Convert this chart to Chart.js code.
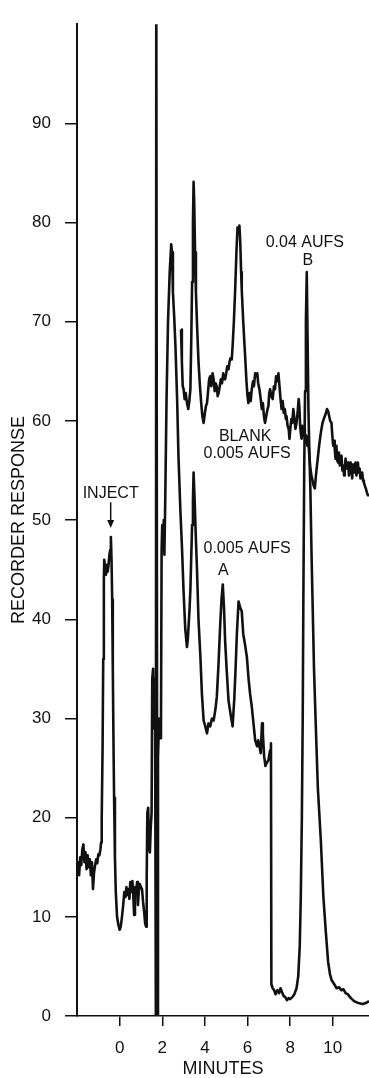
<!DOCTYPE html>
<html>
<head>
<meta charset="utf-8">
<title>Chromatogram</title>
<script src="https://cdn.jsdelivr.net/npm/chart.js@4.4.0/dist/chart.umd.min.js"></script>
<style>
  html, body { margin: 0; padding: 0; background: #fff; }
  #wrap { width: 369px; height: 1078px; }
</style>
</head>
<body>
<div id="wrap"><canvas id="chrom"></canvas></div>
<script>
// sample run, 0.005 AUFS (switched to 0.04 AUFS for peak B)
const SAMPLE_MIN = [
  -2.0, -1.95, -1.9, -1.85, -1.8, -1.75, -1.7, -1.65, -1.6, -1.55, -1.5, -1.45, -1.4, -1.35, -1.3, -1.25,
  -1.2, -1.15, -1.1, -1.05, -1.0, -0.95, -0.9, -0.87, -0.84, -0.8, -0.77, -0.74, -0.72, -0.68, -0.64, -0.6,
  -0.56, -0.52, -0.48, -0.44, -0.41, -0.38, -0.35, -0.32, -0.29, -0.26, -0.22, -0.18, -0.12, -0.06, 0.0, 0.05,
  0.1, 0.16, 0.22, 0.28, 0.32, 0.37, 0.42, 0.46, 0.5, 0.55, 0.6, 0.64, 0.68, 0.72, 0.78, 0.82,
  0.86, 0.9, 0.95, 1.0, 1.05, 1.1, 1.15, 1.2, 1.24, 1.27, 1.3, 1.34, 1.38, 1.42, 1.46, 1.5,
  1.53, 1.57, 1.62, 1.66, 1.70, 1.72, 1.75, 1.77, 1.80, 1.85, 1.9, 1.94, 1.97, 2.0, 2.04, 2.07,
  2.1, 2.14, 2.2, 2.27, 2.35, 2.42, 2.46, 2.5, 2.56, 2.62, 2.7, 2.76, 2.85, 2.93, 3.0, 3.08,
  3.16, 3.2, 3.28, 3.32, 3.4, 3.44, 3.47, 3.52, 3.58, 3.63, 3.7, 3.79, 3.86, 3.94, 4.02, 4.1,
  4.17, 4.25, 4.33, 4.41, 4.5, 4.56, 4.64, 4.72, 4.78, 4.84, 4.9, 4.95, 5.02, 5.11, 5.2, 5.3,
  5.38, 5.44, 5.5, 5.58, 5.65, 5.73, 5.8, 5.88, 5.97, 6.05, 6.12, 6.2, 6.28, 6.36, 6.45, 6.5,
  6.56, 6.62, 6.68, 6.72, 6.78, 6.84, 6.9, 6.98, 7.06, 7.1, 7.12, 7.18, 7.25, 7.32, 7.4, 7.48,
  7.55, 7.62, 7.7, 7.77, 7.85, 7.93, 8.0, 8.1, 8.2, 8.3, 8.38, 8.45, 8.5, 8.55, 8.59, 8.62,
  8.66, 8.7, 8.74, 8.78, 8.82, 8.86, 8.9, 8.95, 9.0, 9.06, 9.12, 9.2, 9.3, 9.44, 9.56, 9.68,
  9.78, 9.87, 9.95, 10.07, 10.18, 10.3, 10.4, 10.5, 10.6, 10.7, 10.85, 11.0, 11.2, 11.4, 11.55, 11.7
];
const SAMPLE_RESP = [
  14.5, 15.5, 14.2, 16, 15.2, 16.8, 17.3, 15.5, 16.5, 14.8, 16.2, 15, 15.8, 14.2, 15.5, 12.8,
  14.5, 15.2, 15.8, 15.4, 16.3, 16.2, 16.8, 17.5, 20, 27, 36, 44, 46, 45, 44.5, 45.5,
  44.8, 45.5, 46.5, 47, 48.3, 46, 42, 35, 28, 22, 16, 12.5, 10, 9.2, 8.7, 9.0,
  9.8, 11, 12.5, 12, 13, 12.2, 12.8, 11.8, 13.5, 12.5, 13.6, 12.2, 10.2, 13, 12.5, 13.5,
  11.2, 12.6, 13.3, 13, 12.8, 11.5, 10.5, 9.3, 9.0, 14, 20.5, 21, 17, 16.5, 19, 20.5,
  34, 35, 29, 34, 0, 105, 105, 0, 26, 30, 28, 29, 47, 49.5, 47, 50,
  46.5, 52, 62, 70, 75, 77.8, 77, 73, 70.5, 67.5, 62, 56.5, 51, 47, 42.8, 39,
  37.2, 38, 41, 43, 49.5, 52, 54.8, 52, 48, 45, 40, 36.2, 32.5, 29.8, 29.2, 28.5,
  29.5, 29.2, 30, 29.8, 31, 32.2, 35.5, 39.5, 42, 43.5, 41, 37.8, 35, 31.8, 30.5, 29.2,
  32, 35, 38.5, 41.8, 41.2, 40.8, 38.5, 37.5, 36.2, 34, 32.5, 31.2, 29.5, 27.8, 27.2, 27.8,
  27.2, 26.5, 29.5, 28.5, 26.2, 25.2, 25.5, 25.8, 26.8, 27.5, 3.2, 2.8, 2.6, 2.2, 2.6, 2.3,
  2.8, 2.4, 2.0, 1.9, 1.6, 1.8, 1.7, 1.9, 2.2, 2.8, 4.0, 7, 12, 20, 30, 42,
  55, 63, 70, 75, 68, 61, 57, 53, 47, 41, 35, 29.5, 23, 17.7, 12, 8.3,
  5.5, 4.2, 3.6, 3.2, 2.8, 2.9, 2.6, 2.7, 2.3, 2.2, 1.8, 1.5, 1.3, 1.2, 1.3, 1.5
];

// blank run, 0.005 AUFS
const BLANK_MIN = [
  2.88, 2.92, 2.96, 3.0, 3.05, 3.1, 3.16, 3.22, 3.27, 3.32, 3.36, 3.4, 3.44, 3.47, 3.5, 3.54,
  3.58, 3.63, 3.7, 3.76, 3.82, 3.88, 3.94, 4.0, 4.05, 4.1, 4.15, 4.2, 4.25, 4.3, 4.36, 4.41,
  4.46, 4.5, 4.56, 4.6, 4.64, 4.7, 4.75, 4.8, 4.86, 4.9, 4.95, 5.0, 5.05, 5.11, 5.16, 5.2,
  5.26, 5.3, 5.36, 5.42, 5.48, 5.53, 5.58, 5.62, 5.66, 5.7, 5.73, 5.8, 5.85, 5.89, 5.95, 6.0,
  6.04, 6.1, 6.15, 6.2, 6.26, 6.3, 6.36, 6.4, 6.46, 6.5, 6.56, 6.62, 6.67, 6.72, 6.77, 6.82,
  6.88, 6.94, 6.98, 7.02, 7.06, 7.12, 7.18, 7.24, 7.29, 7.34, 7.4, 7.45, 7.5, 7.55, 7.6, 7.65,
  7.7, 7.75, 7.8, 7.83, 7.88, 7.93, 7.97, 8.02, 8.06, 8.1, 8.15, 8.2, 8.25, 8.3, 8.35, 8.4,
  8.43, 8.47, 8.5, 8.54, 8.58, 8.62, 8.66, 8.69, 8.73, 8.77, 8.81, 8.85, 8.9, 8.95, 9.0, 9.05,
  9.1, 9.16, 9.21, 9.26, 9.31, 9.36, 9.42, 9.47, 9.52, 9.58, 9.63, 9.68, 9.73, 9.78, 9.83, 9.88,
  9.94, 9.98, 10.02, 10.06, 10.09, 10.13, 10.17, 10.21, 10.25, 10.29, 10.33, 10.37, 10.41, 10.45, 10.49, 10.53,
  10.56, 10.6, 10.64, 10.68, 10.72, 10.76, 10.8, 10.84, 10.87, 10.91, 10.95, 10.99, 11.03, 11.07, 11.11, 11.15,
  11.18, 11.22, 11.26, 11.3, 11.34, 11.38, 11.42, 11.46, 11.5, 11.55, 11.6, 11.65, 11.7
];
const BLANK_RESP = [
  69.2, 66, 63.5, 63.2, 62.2, 62.8, 61.8, 61.2, 62, 63.2, 68, 74, 80, 84.1, 82, 77,
  73, 69.8, 66, 63.8, 62, 60.5, 59.8, 60.8, 61.5, 61.8, 63, 64.2, 64.5, 63.5, 64.8, 64.2,
  63, 63.8, 63.5, 62.5, 62.8, 63.5, 64.2, 63.8, 64.8, 64.2, 64.2, 64.8, 65.5, 65.2, 66, 66.3,
  66.2, 67.5, 70, 73.2, 77, 79.5, 79.2, 79.7, 78, 75, 73.2, 70, 68, 66.5, 64, 62.5,
  61.8, 62.8, 62, 63.2, 64, 63.5, 64.8, 64.5, 64.8, 63.8, 63.2, 62.2, 61.2, 61.8, 60.5, 59.8,
  60.5, 61.2, 61.5, 62.8, 63.2, 62.5, 62.2, 63.5, 63.2, 64.5, 64, 64.8, 63.5, 62.2, 61.2, 62,
  60.8, 61.2, 60.2, 60.5, 59.5, 59.2, 58.2, 59.5, 60.2, 59.8, 61.2, 60.2, 59.2, 59.8, 60.8, 62.2,
  61.5, 59.5, 58.8, 58.2, 59.5, 58.5, 59.2, 58.8, 57.8, 58.5, 57.5, 58.2, 56.5, 55.2, 54.5, 54,
  53.5, 53.2, 54.5, 55.5, 56.5, 57.5, 58.5, 59.2, 59.8, 60.2, 60.5, 60.8, 61.2, 61, 60.5, 60,
  59.8, 58.5, 57.5, 58, 57.2, 56.2, 57.5, 56, 55.8, 56.8, 55.5, 56.2, 56.5, 55, 55.5, 54.5,
  54.8, 56.2, 55.2, 55.5, 55.8, 54.5, 55.2, 55.8, 55.5, 54.2, 55.6, 54.8, 54.8, 55.8, 54.5, 55.2,
  55.8, 54.8, 55.2, 54.2, 54.5, 54.8, 54, 53.8, 53.5, 53.2, 52.8, 52.5, 52.5
];

const X_TICKS = [0, 2, 4, 6, 8, 10];
const Y_TICKS = [0, 10, 20, 30, 40, 50, 60, 70, 80, 90];

// text notes placed in data coordinates (minutes, response)
const NOTES = [
  { text: "INJECT", x: -0.42, y: 52.7 },
  { text: "BLANK", x: 5.89, y: 58.4 },
  { text: "0.005 AUFS", x: 5.98, y: 56.7 },
  { text: "0.005 AUFS", x: 5.98, y: 47.1 },
  { text: "A", x: 4.86, y: 44.9 },
  { text: "0.04 AUFS", x: 8.69, y: 78.0 },
  { text: "B", x: 8.83, y: 76.2 }
];
const INJECT_ARROW = { x: -0.42, from: 51.8, to: 49.2 };

const INK = "#111";
const FONT = "'Liberation Sans', Arial, sans-serif";

const toPoints = (xs, ys) => xs.map((x, i) => ({ x, y: ys[i] }));

const notesPlugin = {
  id: "notes",
  afterDatasetsDraw(chart) {
    const { ctx, scales: { x, y } } = chart;
    ctx.save();
    ctx.fillStyle = INK;
    ctx.strokeStyle = INK;
    ctx.font = "16px " + FONT;
    ctx.textAlign = "center";
    ctx.textBaseline = "middle";
    NOTES.forEach(n => ctx.fillText(n.text, x.getPixelForValue(n.x), y.getPixelForValue(n.y)));

    // arrow under INJECT
    const ax = x.getPixelForValue(INJECT_ARROW.x);
    const y0 = y.getPixelForValue(INJECT_ARROW.from);
    const y1 = y.getPixelForValue(INJECT_ARROW.to);
    ctx.lineWidth = 1.5;
    ctx.beginPath();
    ctx.moveTo(ax, y0);
    ctx.lineTo(ax, y1 - 6);
    ctx.stroke();
    ctx.beginPath();
    ctx.moveTo(ax - 3.5, y1 - 8);
    ctx.lineTo(ax + 3.5, y1 - 8);
    ctx.lineTo(ax, y1);
    ctx.closePath();
    ctx.fill();
    ctx.restore();
  }
};

const lineStyle = {
  borderColor: INK,
  borderWidth: 2.6,
  pointRadius: 0,
  tension: 0,
  borderJoinStyle: "round",
  fill: false
};

new Chart(document.getElementById("chrom"), {
  type: "line",
  data: {
    datasets: [
      { label: "Sample", data: toPoints(SAMPLE_MIN, SAMPLE_RESP), ...lineStyle },
      { label: "Blank", data: toPoints(BLANK_MIN, BLANK_RESP), ...lineStyle }
    ]
  },
  options: {
    responsive: true,
    maintainAspectRatio: false,
    animation: false,
    layout: { padding: { top: 13, right: 0, left: 0, bottom: 0 } },
    plugins: {
      legend: { display: false },
      tooltip: { enabled: false }
    },
    scales: {
      x: {
        type: "linear",
        min: -2,
        max: 11.7,
        afterBuildTicks: s => { s.ticks = X_TICKS.map(v => ({ value: v })); },
        afterFit: s => { s.height = 62; },
        grid: { drawOnChartArea: false, drawTicks: true, tickLength: 10, color: INK, lineWidth: 1.5 },
        border: { display: true, color: INK, width: 1.5 },
        ticks: { color: INK, padding: 12, maxRotation: 0, font: { family: FONT, size: 17 } },
        title: {
          display: true,
          text: "MINUTES",
          color: INK,
          font: { family: FONT, size: 18, lineHeight: 1 },
          padding: { top: 0, bottom: 0 }
        }
      },
      y: {
        type: "linear",
        min: 0,
        max: 100,
        afterBuildTicks: s => { s.ticks = Y_TICKS.map(v => ({ value: v })); },
        afterFit: s => { s.width = 77; },
        grid: { drawOnChartArea: false, drawTicks: true, tickLength: 12, color: INK, lineWidth: 1.5 },
        border: { display: true, color: INK, width: 2 },
        ticks: { color: INK, padding: 14, font: { family: FONT, size: 17 } },
        title: {
          display: true,
          text: "RECORDER RESPONSE",
          color: INK,
          font: { family: FONT, size: 18, lineHeight: 1 },
          padding: { top: 10, bottom: 0 }
        }
      }
    }
  },
  plugins: [notesPlugin]
});
</script>
</body>
</html>
